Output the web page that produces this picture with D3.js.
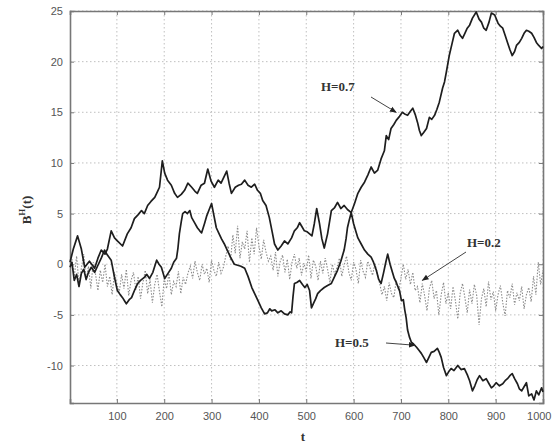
<!DOCTYPE html>
<html><head><meta charset="utf-8">
<script src="https://cdn.jsdelivr.net/npm/d3@7"></script>
<style>body{margin:0;background:#fff}</style>
</head><body>
<svg id="c" width="553" height="446"></svg>
<script>
// ---- data ----
const tH07 = [1,8,17,25,32,42,53,60,67,75,80,88,95,101,112,122,130,137,145,152,158,165,172,180,186,190,196,201,207,215,222,228,236,243,250,258,265,270,278,285,292,299,306,314,320,326,332,337,342,350,357,363,370,377,384,391,397,403,408,415,422,428,433,440,447,454,461,469,475,481,486,491,496,502,507,512,517,522,528,533,538,545,553,560,566,573,580,587,595,602,609,616,623,630,637,644,651,658,665,669,674,679,685,690,697,703,709,714,720,725,730,735,739,743,748,754,760,765,771,776,781,788,792,796,802,808,813,820,825,830,835,840,845,851,859,865,870,875,880,886,891,898,905,910,915,920,925,930,935,940,944,950,955,960,965,970,976,981,986,991,997,1000];
const vH07 = [0.2,1.5,2.8,1.5,-0.3,0.3,-0.4,0.6,1.4,1.0,1.5,3.3,2.6,2.3,1.8,3.0,3.6,4.5,4.9,5.3,5.0,5.8,6.2,6.6,7.2,7.6,10.2,9.0,8.3,7.8,7.0,6.6,6.9,7.3,8.0,7.6,7.2,7.0,7.8,8.0,9.4,8.2,7.6,8.3,8.0,8.6,9.2,8.0,7.0,7.6,7.8,7.9,8.3,7.8,7.6,7.9,7.3,7.0,6.3,5.8,4.6,3.2,2.0,1.4,1.8,2.3,2.0,2.6,3.3,3.6,4.1,3.7,3.3,3.2,3.0,2.8,4.0,5.5,4.0,2.5,1.6,3.0,5.3,5.6,6.1,5.5,5.8,5.4,5.1,6.0,7.0,7.6,8.1,8.8,9.6,9.0,9.3,10.4,11.2,12.7,12.3,13.4,13.8,14.2,14.6,15.0,14.8,14.7,15.1,15.4,14.8,14.0,13.2,12.7,13.0,13.4,14.5,14.3,14.7,15.3,16.0,17.4,18.0,19.0,20.6,21.8,22.8,23.1,22.6,22.3,22.8,23.3,23.6,24.3,24.9,24.2,23.9,23.3,23.1,23.9,24.8,24.6,23.8,23.5,23.3,22.6,21.9,21.2,20.6,21.0,21.6,21.9,22.3,22.8,23.1,23.0,22.8,22.4,21.9,21.6,21.3,21.5];

const tH05 = [1,5,10,15,20,25,30,35,40,46,53,60,67,74,80,88,95,101,107,112,116,120,126,131,138,144,150,158,163,169,176,184,189,194,201,208,215,220,226,229,232,236,239,244,249,254,258,264,270,275,279,285,290,295,300,305,310,316,321,327,333,340,348,355,362,370,377,385,392,398,405,412,418,423,427,434,440,447,454,461,466,469,472,475,480,486,492,497,502,507,511,516,520,524,530,538,545,553,560,566,573,580,584,587,591,595,600,605,609,616,623,630,637,642,648,653,658,663,668,672,677,682,686,690,697,701,705,708,711,714,718,722,727,733,738,743,748,754,759,764,770,777,781,785,790,796,801,806,812,820,827,834,840,845,851,856,861,866,873,880,886,891,896,901,908,915,920,925,930,935,940,946,950,955,960,965,970,976,981,986,991,997,1000];
const vH05 = [-0.3,0.2,-1.6,-1.0,-2.2,-0.9,-0.5,-1.5,-0.8,-0.3,-0.8,-0.1,0.6,1.4,0.9,0.4,-1.3,-2.6,-3.0,-3.3,-3.6,-3.9,-3.5,-3.3,-2.5,-1.9,-1.6,-1.3,-1.0,-1.4,-0.8,0.4,0.0,-0.3,-1.4,-0.9,-0.4,0.2,0.6,1.6,3.0,4.2,5.0,5.2,5.0,5.3,4.6,4.1,3.6,3.3,3.1,4.0,4.8,5.4,6.0,4.8,3.6,3.0,2.5,2.0,1.4,0.7,0.0,-0.1,-0.2,-0.4,-1.2,-2.3,-3.0,-3.6,-4.3,-4.9,-4.8,-4.4,-4.6,-4.5,-4.8,-4.6,-4.9,-5.0,-4.7,-4.8,-3.2,-1.9,-1.8,-1.6,-2.0,-2.3,-2.0,-2.6,-4.3,-3.8,-3.4,-2.9,-2.6,-2.3,-2.1,-1.9,-1.2,-0.6,0.3,1.4,2.5,3.6,4.4,5.1,4.0,3.2,2.6,2.0,1.4,1.0,0.7,0.2,-0.6,-1.5,-1.9,-0.9,0.2,1.0,0.0,-0.8,-1.4,-1.8,-2.6,-3.6,-3.5,-4.5,-5.3,-6.5,-7.2,-7.7,-7.9,-8.2,-8.5,-8.8,-9.2,-9.7,-9.2,-8.7,-8.6,-8.3,-8.7,-9.2,-10.2,-11.0,-10.6,-10.3,-10.5,-10.0,-10.4,-10.3,-10.9,-11.5,-12.5,-12.0,-11.4,-11.0,-11.5,-11.3,-11.8,-12.2,-12.0,-11.7,-12.0,-11.8,-11.5,-11.3,-11.0,-10.8,-11.3,-11.8,-12.3,-12.5,-12.1,-11.7,-13.0,-12.8,-13.4,-12.5,-12.9,-12.2,-12.6];

const vH02 = [0.5,-1.2,0.8,-2.0,-0.4,1.0,-1.6,-0.2,-2.4,0.2,
 -1.0,-2.6,-0.6,-1.8,0.0,-2.2,-1.2,-3.0,-0.8,-1.9,-2.8,-1.0,-2.4,-0.5,-3.1,-1.6,
 -0.8,-2.5,-1.2,-3.4,-1.8,-0.6,-2.9,-1.5,-3.8,-2.0,-1.0,-2.7,-4.2,-1.4,-2.4,-0.9,-3.0,-1.7,-2.2,-0.7,-2.9,-1.3,-2.0,-0.9,
 -0.2,-1.4,0.3,-0.8,-1.6,0.0,-1.0,-0.4,-1.8,0.4,-0.6,-1.2,0.2,-0.9,-0.3,0.8,
 1.8,0.4,2.9,1.1,3.8,0.6,2.2,1.5,3.3,0.2,2.6,1.0,3.6,1.8,0.5,2.4,1.2,0.3,
 0.8,-0.6,1.2,-1.2,0.3,0.9,-0.8,0.5,-1.5,0.2,1.0,-0.4,0.6,-1.1,0.1,-0.7,0.9,-1.4,0.4,-0.2,-1.6,0.3,-0.9,0.6,-0.5,-1.8,0.0,-1.0,
 -0.3,0.6,-1.2,-0.1,0.8,-0.8,-1.6,0.2,-0.5,-1.9,0.4,-0.7,-1.3,0.3,-0.4,-1.1,0.1,-0.9,
 -1.9,-3.0,-2.2,-3.6,-1.8,-2.9,-3.3,-1.6,-2.6,-1.4,
 0.0,-1.5,-0.5,-2.0,-0.8,-2.6,
 -2.2,-3.8,-1.9,-3.1,-4.6,-2.4,-1.6,-3.4,-2.6,-5.0,-3.0,-1.8,-3.9,-2.8,-4.4,-2.2,-3.6,-5.4,-2.9,-1.9,-3.3,-4.8,-2.5,-3.9,-2.0,-3.1,-6.0,-3.4,-2.4,-4.2,-1.7,-3.5,-2.7,-4.6,-3.0,-2.1,-3.8,-5.1,-2.6,-3.3,-1.9,-4.0,-2.8,-3.6,-2.2,-4.4,-3.0,-2.3,-3.7,
 -1.2,-3.0,0.2,-2.0,-0.6];
const tH02 = d3.range(5, 1001, 5);

const xTicks = [100,200,300,400,500,600,700,800,900,1000];
const yTicks = [-10,-5,0,5,10,15,20,25];
const labels = [
  {text:"H=0.7", t:690, v:15.0, lx:321, ly:91},
  {text:"H=0.2", t:745, v:-1.6, lx:467, ly:247},
  {text:"H=0.5", t:730, v:-8.0, lx:335, ly:347}
];

// ---- drawing ----
const svg = d3.select("#c");
const L=70, R=543, T=11, B=403;
const x = d3.scaleLinear().domain([1,1000]).range([L,R]);
const y = d3.scaleLinear().domain([-13.7,25]).range([B,T]);
const fmt = d => String(d);

// grid
const g = svg.append("g");
g.selectAll(".gx").data(xTicks).join("line")
  .attr("x1",d=>x(d)).attr("x2",d=>x(d)).attr("y1",T).attr("y2",B)
  .attr("stroke","#b0b0b0").attr("stroke-width",0.8).attr("stroke-dasharray","1.5,2.5");
g.selectAll(".gy").data(yTicks).join("line")
  .attr("y1",d=>y(d)).attr("y2",d=>y(d)).attr("x1",L).attr("x2",R)
  .attr("stroke","#b0b0b0").attr("stroke-width",0.8).attr("stroke-dasharray","1.5,2.5");

// axes
const xa = svg.append("g").attr("transform",`translate(0,${B})`)
  .call(d3.axisBottom(x).tickValues(xTicks).tickSize(-4).tickPadding(9).tickFormat(fmt));
const ya = svg.append("g").attr("transform",`translate(${L},0)`)
  .call(d3.axisLeft(y).tickValues(yTicks).tickSize(-4).tickPadding(7).tickFormat(fmt));
svg.append("g").attr("transform",`translate(0,${T})`)
  .call(d3.axisTop(x).tickValues(xTicks).tickSize(-4).tickFormat(""));
svg.append("g").attr("transform",`translate(${R},0)`)
  .call(d3.axisRight(y).tickValues(yTicks).tickSize(-4).tickFormat(""));
svg.selectAll(".domain").attr("stroke","#777").attr("stroke-width",1.6);
svg.selectAll(".tick line").attr("stroke","#777");
svg.selectAll(".tick text").attr("fill","#555").style("font-family","Liberation Sans, Arial, sans-serif").style("font-size","11px");
// keep last x label inside the picture
xa.selectAll(".tick text").filter(d=>d===1000).attr("text-anchor","end").attr("dx","8");

// series
const line = d3.line().x(d=>x(d[0])).y(d=>y(d[1]));
svg.append("path").datum(tH02.map((t,i)=>[t,vH02[i]]))
  .attr("d",line).attr("fill","none").attr("stroke","#8c8c8c").attr("stroke-width",1.1)
  .attr("stroke-dasharray","1.5,1.5");
svg.append("path").datum(tH05.map((t,i)=>[t,vH05[i]]))
  .attr("d",line).attr("fill","none").attr("stroke","#1e1e1e").attr("stroke-width",1.7).attr("stroke-linejoin","round");
svg.append("path").datum(tH07.map((t,i)=>[t,vH07[i]]))
  .attr("d",line).attr("fill","none").attr("stroke","#1e1e1e").attr("stroke-width",1.7).attr("stroke-linejoin","round");

// annotations
svg.append("defs").append("marker").attr("id","ah").attr("viewBox","0 0 10 10")
  .attr("refX",9).attr("refY",5).attr("markerWidth",7).attr("markerHeight",7).attr("orient","auto")
  .append("path").attr("d","M0,1 L10,5 L0,9 Z").attr("fill","#222");
labels.forEach(a=>{
  svg.append("text").attr("x",a.lx).attr("y",a.ly).text(a.text)
    .attr("fill","#333").style("font-family","Liberation Serif, Times New Roman, serif")
    .style("font-size","13px").style("font-weight","bold");
});
const arrows = [
  {x1:371,y1:97, i:0},
  {x1:466,y1:252, i:1},
  {x1:386,y1:343, i:2}
];
arrows.forEach(a=>{
  const lab = labels[a.i];
  svg.append("line").attr("x1",a.x1).attr("y1",a.y1).attr("x2",x(lab.t)).attr("y2",y(lab.v))
    .attr("stroke","#444").attr("stroke-width",1).attr("marker-end","url(#ah)");
});

// axis labels
svg.append("text").attr("x",303).attr("y",441).attr("text-anchor","middle")
  .style("font-family","Liberation Serif, serif").style("font-size","13px").style("font-weight","bold")
  .attr("fill","#333").text("t");
const yl = svg.append("text").attr("transform","translate(31,210) rotate(-90)").attr("text-anchor","middle")
  .style("font-family","Liberation Serif, serif").style("font-size","13px").style("font-weight","bold").attr("fill","#333");
yl.append("tspan").text("B");
yl.append("tspan").attr("dy","-6").style("font-size","9px").text("H");
yl.append("tspan").attr("dy","6").text("(t)");
</script>
</body></html>
